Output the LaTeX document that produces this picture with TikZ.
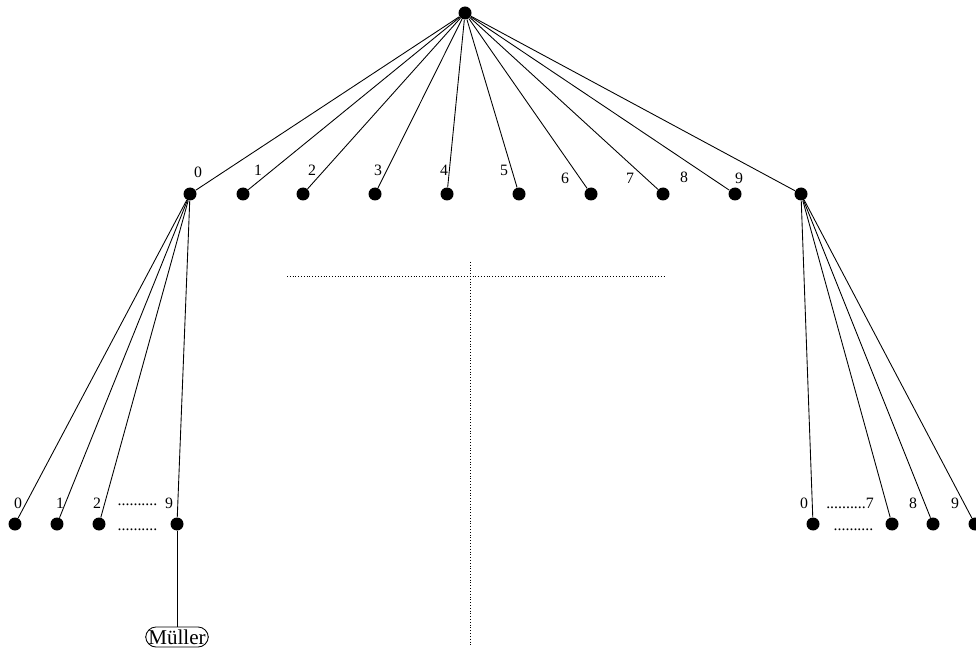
\documentclass[tikz,border=0pt]{standalone}
\usepackage{fontspec}
\setmainfont{Liberation Serif}
\begin{document}
\begin{tikzpicture}[x=0.02cm,y=-0.02cm]
          \tikzstyle{dot}=[circle,fill=black,inner sep=0pt,minimum size=0.26cm]
          \tikzstyle{edge}=[draw,line width = .5pt]
          \tikzstyle{sedge}=[draw,line width = .4pt,dash pattern=on .4pt off 1.2pt]
          \tikzstyle{lbl}=[inner sep=0pt,font=\fontsize{9}{10}\selectfont]
          \tikzstyle{leaf}=[draw,line width = .5pt,rounded corners=6pt,inner xsep=1.5pt,inner ysep=1.5pt,font=\fontsize{12}{14}\selectfont]
          \useasboundingbox (0,0) rectangle (976,648);
          \node[dot] (r) at (465,13) {};
          % first level
          \foreach \i/\x/\lx/\ly in {0/190/198/172,1/243/258/170,2/303/312/170,3/375/378/170,4/447/444/170,
                                     5/519/504/170,6/591/565/178,7/663/630/178,8/735/684/177,9/801/739/178}{
            \node[dot] (a\i) at (\x,194) {};
            \node[lbl] (la\i) at (\lx,\ly) {\i};
            \draw[edge] (r) -- (a\i);
            }
          % below 0
          \foreach \i/\x/\lx in {0/15/18,1/57/60,2/99/97,9/177/169}{
            \node[dot] (b\i) at (\x,524) {};
            \node[lbl] (lb\i) at (\lx,503) {\i};
            \draw[edge] (a0) -- (b\i);
            }
          \node[lbl] (bdots1) at (137.5,505) {..........};
          \node[lbl] (bdots2) at (137.5,530) {..........};
          \node[leaf] (m) at (177,637) {Müller};
          \draw[edge] (b9) -- (m);
          % below 9
          \foreach \i/\x in {0/813,7/892,8/933,9/975}{
            \node[dot] (c\i) at (\x,524) {};
            \draw[edge] (a9) -- (c\i);
            }
          \node[lbl] (lc0) at (804,503) {0};
          \node[lbl] (lc7) at (850,503) {..........7};
          \node[lbl] (lc8) at (913,503) {8};
          \node[lbl] (lc9) at (955,503) {9};
          \node[lbl] (cdots) at (853.5,530) {..........};
          % dotted cross
          \coordinate (h1) at (287,276);
          \coordinate (h2) at (666,276);
          \coordinate (v1) at (470,262);
          \coordinate (v2) at (470,645);
          \draw[sedge] (h1) -- (h2);
          \draw[sedge] (v1) -- (v2);
        \end{tikzpicture}
\end{document}
